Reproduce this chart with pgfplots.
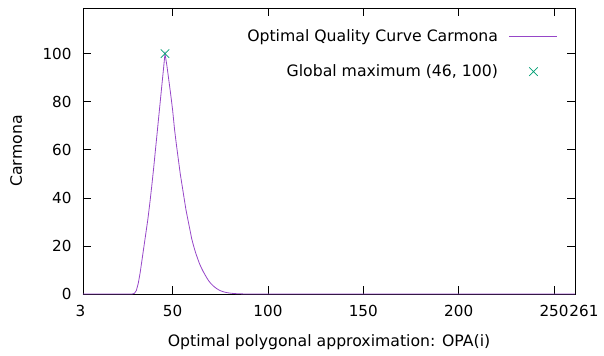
\documentclass[border=0pt]{standalone}
\usepackage{fontspec}
\setmainfont{DejaVu Sans}
\usepackage{pgfplots}
\pgfplotsset{compat=1.18}
\definecolor{gpviolet}{RGB}{150,70,200}
\definecolor{gpgreen}{RGB}{0,158,115}
\begin{document}
\fontsize{15.7bp}{18bp}\selectfont
\begin{tikzpicture}
\begin{axis}[
  at={(0,0)}, anchor=south west,
  width=492bp, height=286bp, scale only axis,
  xmin=3, xmax=261, ymin=0, ymax=119,
  xtick={3,50,100,150,200,250,261},
  xticklabels={{\makebox[0pt]{\hspace*{-5bp}3}},50,100,150,200,{250},{\makebox[0pt]{\hspace*{18bp}261}}},
  ytick={0,20,40,60,80,100},
  tick align=inside,
  major tick length=8bp,
  tick style={black, line width=0.6bp},
  axis line style={black, line width=0.8bp},
  /pgf/number format/assume math mode=true,
  tick label style={font=\fontsize{15.2bp}{18bp}\selectfont},
  xticklabel style={yshift=-5.5bp},
  yticklabel style={xshift=-6bp},
  xlabel={Optimal polygonal approximation: OPA(i)},
  ylabel={Carmona},
  every axis x label/.style={at={(axis description cs:0.5,-0.168)}, anchor=center},
  every axis y label/.style={at={(axis description cs:-0.136,0.5)}, anchor=center, rotate=90},
  legend style={draw=none, fill=none, at={(axis description cs:1,1)}, anchor=north east,
    xshift=-17bp, yshift=-19bp, inner sep=0pt, row sep=17bp, column sep=9bp,
    nodes={inner sep=2bp}, font=\fontsize{15.7bp}{18bp}\selectfont},
  legend cell align=right,
  legend plot pos=right,
  legend image code/.code={\draw[mark repeat=2,mark phase=2,#1] plot coordinates {(0bp,0bp) (24bp,0bp) (48bp,0bp)};},
]
\addplot[gpviolet, line width=0.8bp] coordinates {
(3,0) (28,0) (29,0.05) (30,0.3) (31,1.5) (32,4.5) (33,9) (34,14.5) (35,20) (36,25.5) (37,31) (38,37.5) (39,44.5) (40,52) (41,60) (42,68) (43,76) (44,84) (45,92) (46,100)
(47,95) (48,89) (49,83) (50,76.5) (51,68.5) (52,62) (53,56) (54,50) (55,45) (56,40) (57,35) (58,31) (59,27) (60,23) (61,20) (62,17.3) (63,15) (64,12.8) (65,11) (66,9.4) (67,8) (68,6.6) (69,5.4) (70,4.4) (71,3.6) (72,2.9) (73,2.3) (74,1.8) (75,1.4) (76,1.1) (77,0.85) (78,0.65) (79,0.5) (80,0.38) (82,0.2) (85,0.08) (88,0.02) (90,0) (261,0)
};
\addlegendentry{Optimal Quality Curve Carmona}
\addplot[only marks, mark=x, mark size=6bp, gpgreen, line width=0.7bp] coordinates {(46,100)};
\addlegendentry{Global maximum (46, 100)}
\end{axis}
\pgfresetboundingbox
\path (-83bp,-62bp) rectangle (521bp,294bp);
\end{tikzpicture}
\end{document}
